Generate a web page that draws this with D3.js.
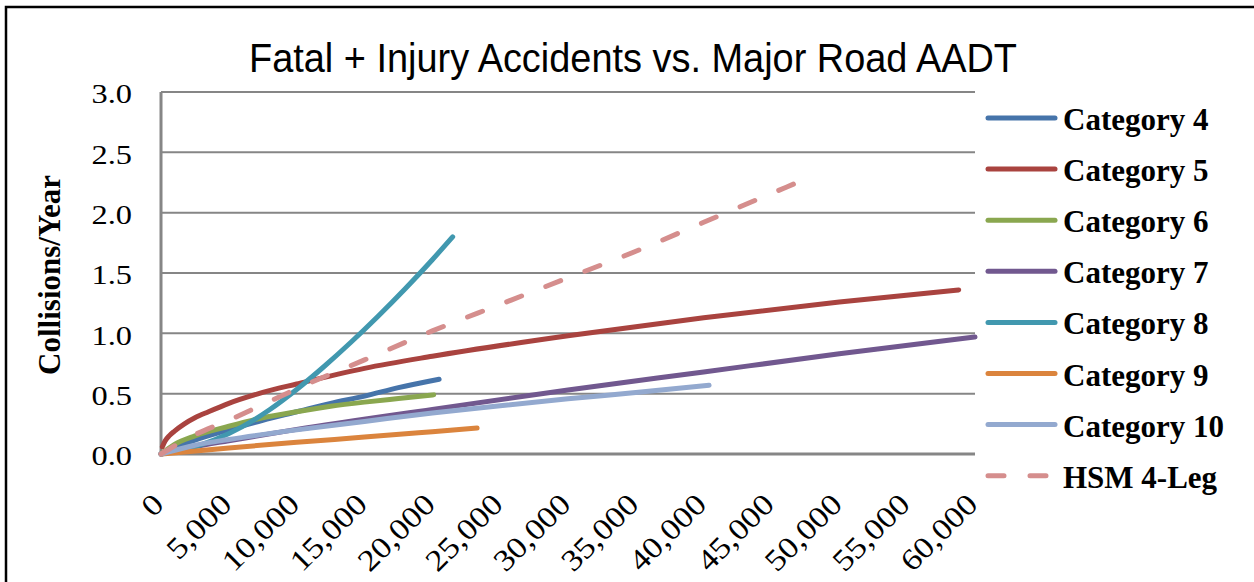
<!DOCTYPE html>
<meta charset="utf-8">
<head>
  <title>Fatal + Injury Accidents vs. Major Road AADT</title>
</head>

<style>
  body { margin: 0; background: #fff; }
  svg { display: block; }
  .tick text { font-family: "Liberation Serif", "Times New Roman", serif; fill: #000; }
  .grid { stroke: #868686; stroke-width: 2px; }
  .axisline { stroke: #868686; stroke-width: 3px; }
  .line { fill: none; stroke-width: 5px; stroke-linecap: round; stroke-linejoin: round; }
  .legend text { font-family: "Liberation Serif", "Times New Roman", serif; font-weight: bold; font-size: 31px; }
</style>

<body>
<svg width="1254" height="582"></svg>

<script src="https://cdn.jsdelivr.net/npm/d3@7"></script>
<script>

// series names + colours, in drawing order
var names = ["Category 4", "Category 5", "Category 6", "Category 7", "Category 8", "Category 9", "Category 10", "HSM 4-Leg"];
var colors = ["#4674AA", "#A9433F", "#8AA74F", "#71588F", "#4198AF", "#DB843D", "#93A9CF", "#D58E8D"];

// major road AADT / collisions per year
var cat4X = [0, 1000, 2500, 5000, 7500, 10000, 12500, 15000, 17500, 20500];
var cat4Y = [0, 0.055, 0.115, 0.20, 0.28, 0.35, 0.42, 0.48, 0.55, 0.62];

var cat5X = [100, 300, 600, 1000, 1700, 2500, 3500, 5000, 7500, 10000, 15000, 20000, 30000, 40000, 50000, 58800];
var cat5Y = [0.06, 0.108, 0.15, 0.19, 0.248, 0.30, 0.35, 0.42, 0.51, 0.58, 0.71, 0.81, 0.98, 1.13, 1.26, 1.36];

var cat6X = [0, 1000, 2500, 5000, 7500, 10000, 12500, 15000, 17500, 20100];
var cat6Y = [0, 0.08, 0.15, 0.23, 0.30, 0.35, 0.395, 0.43, 0.46, 0.49];

var cat7X = [0, 2500, 5000, 10000, 20000, 30000, 40000, 50000, 60000];
var cat7Y = [0, 0.061, 0.11, 0.204, 0.37, 0.53, 0.68, 0.83, 0.97];

var cat8X = [0, 2000, 4000, 6000, 8000, 10000, 12000, 14000, 16000, 18000, 20000, 21500];
var cat8Y = [0, 0.045, 0.12, 0.227, 0.367, 0.535, 0.723, 0.926, 1.142, 1.37, 1.61, 1.80];

var cat9X = [0, 5000, 10000, 15000, 20000, 23300];
var cat9Y = [0, 0.05, 0.097, 0.14, 0.185, 0.215];

var cat10X = [0, 2500, 5000, 10000, 15000, 20000, 25000, 30000, 35000, 40400];
var cat10Y = [0, 0.073, 0.12, 0.20, 0.27, 0.34, 0.40, 0.457, 0.51, 0.57];

var hsmX = [0, 2500, 5000, 7500, 10000, 15000, 20000, 25000, 30000, 35000, 40000, 46900];
var hsmY = [0, 0.16, 0.28, 0.41, 0.54, 0.78, 1.02, 1.24, 1.46, 1.68, 1.92, 2.25];

var xTicks = [0, 5000, 10000, 15000, 20000, 25000, 30000, 35000, 40000, 45000, 50000, 55000, 60000];
var yTicks = [0, 0.5, 1.0, 1.5, 2.0, 2.5, 3.0];

var xs = [cat4X, cat5X, cat6X, cat7X, cat8X, cat9X, cat10X, hsmX];
var ys = [cat4Y, cat5Y, cat6Y, cat7Y, cat8Y, cat9Y, cat10Y, hsmY];

var series = names.map(function(n, i) {
  return {
    name: n, color: colors[i], dashed: n === "HSM 4-Leg",
    values: xs[i].map(function(v, j) { return {x: v, y: ys[i][j]}; })
  };
});

// stretch text horizontally by factor k (the source text is a little wide)
function stretch(sel, k) {
  sel.each(function() {
    var w = this.getComputedTextLength();
    d3.select(this).attr("textLength", w * k).attr("lengthAdjust", "spacingAndGlyphs");
  });
}

var svg = d3.select("svg");

// outer frame
svg.append("rect")
  .attr("x", 6).attr("y", 7).attr("width", 1300).attr("height", 700)
  .attr("fill", "none").attr("stroke", "#000").attr("stroke-width", 2.5);

var plotL = 161, plotR = 975, plotT = 92, plotB = 454;

var x = d3.scaleLinear().domain([0, 60000]).range([plotL, plotR]);
var y = d3.scaleLinear().domain([0, 3]).range([plotB, plotT]);

// title
var title = svg.append("text")
  .attr("x", 249).attr("y", 72)
  .style("font-family", "'Liberation Sans', Arial, sans-serif")
  .style("font-size", "40px")
  .text("Fatal + Injury Accidents vs. Major Road AADT");
title.attr("textLength", 768).attr("lengthAdjust", "spacingAndGlyphs");

// gridlines
svg.append("g").selectAll("line")
  .data(yTicks.filter(function(d) { return d > 0; }))
  .enter().append("line")
  .attr("class", "grid")
  .attr("x1", plotL).attr("x2", plotR)
  .attr("y1", function(d) { return y(d); })
  .attr("y2", function(d) { return y(d); });

// y axis labels
var yAxis = svg.append("g")
  .attr("transform", "translate(" + plotL + ",0)")
  .call(d3.axisLeft(y).tickValues(yTicks).tickFormat(d3.format(".1f")).tickSize(0).tickPadding(29));
yAxis.select(".domain").remove();
yAxis.selectAll("text").style("font-size", "27px").attr("dy", "0.4em");
stretch(yAxis.selectAll("text"), 1.2);

// x axis labels
var xAxis = svg.append("g")
  .attr("transform", "translate(0," + plotB + ")")
  .call(d3.axisBottom(x).tickValues(xTicks).tickFormat(d3.format(",")).tickSize(0));
xAxis.select(".domain").remove();
xAxis.selectAll("text")
  .style("font-size", "30px")
  .style("text-anchor", "end")
  .attr("x", 0).attr("y", 0).attr("dy", 0)
  .attr("transform", "translate(4,52) rotate(-45)");
stretch(xAxis.selectAll("text"), 1.15);

// axis lines
svg.append("line").attr("class", "axisline")
  .attr("x1", plotL).attr("x2", plotL).attr("y1", plotT).attr("y2", plotB + 1.5);
svg.append("line").attr("class", "axisline")
  .attr("x1", plotL - 1.5).attr("x2", plotR).attr("y1", plotB).attr("y2", plotB);

// y axis title
svg.append("text")
  .attr("transform", "translate(60,275) rotate(-90)")
  .style("text-anchor", "middle")
  .style("font-family", "'Liberation Serif', 'Times New Roman', serif")
  .style("font-weight", "bold")
  .style("font-size", "31px")
  .text("Collisions/Year");

// lines
var line = d3.line()
  .curve(d3.curveMonotoneX)
  .x(function(d) { return x(d.x); })
  .y(function(d) { return y(d.y); });

svg.append("g").selectAll("path")
  .data(series)
  .enter().append("path")
  .attr("class", "line")
  .attr("stroke", function(d) { return d.color; })
  .attr("stroke-dasharray", function(d) { return d.dashed ? "16,26" : null; })
  .attr("d", function(d) { return line(d.values); });

// legend
var legend = svg.append("g").attr("class", "legend")
  .selectAll("g")
  .data(series)
  .enter().append("g")
  .attr("transform", function(d, i) { return "translate(0," + (118 + i * 51.1) + ")"; });

legend.append("line")
  .attr("x1", 988).attr("x2", 1055)
  .attr("stroke", function(d) { return d.color; })
  .attr("stroke-width", 5)
  .attr("stroke-linecap", "round")
  .attr("stroke-dasharray", function(d) { return d.dashed ? "16,26" : null; });

legend.append("text")
  .attr("x", 1063).attr("y", 12)
  .text(function(d) { return d.name; });

</script>
</body>
</html>
